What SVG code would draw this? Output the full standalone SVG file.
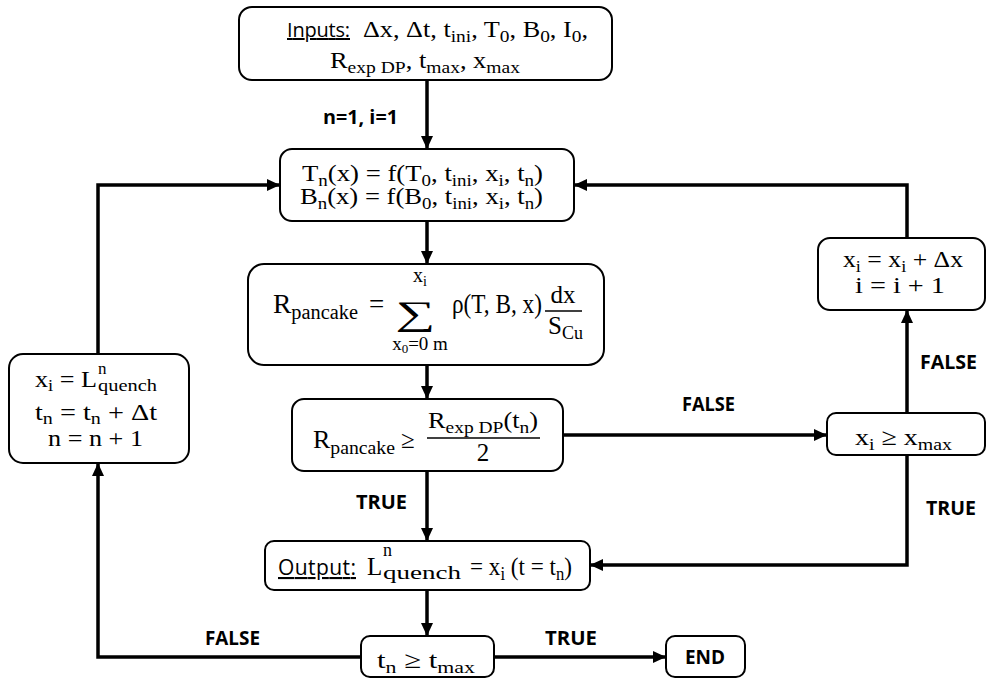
<svg xmlns="http://www.w3.org/2000/svg" width="987" height="679" viewBox="0 0 987 679" font-size="24">
  <style>
    .box { fill: #ffffff; stroke: #000000; stroke-width: 2; }
    .wire { fill: none; stroke: #000000; stroke-width: 3.5; stroke-linejoin: miter; marker-end: url(#head); }
    .m { font-family: "Liberation Serif", "DejaVu Serif", serif; fill: #000000; }
    .s { font-size: 17px; }
    .lbl { font-family: "Open Sans", "Liberation Sans", sans-serif; font-weight: bold; fill: #000000; }
    .kw { font-family: "Open Sans", "Liberation Sans", sans-serif; text-decoration: underline; fill: #000000; }
    .bar { stroke: #000000; stroke-width: 1.5; }
  </style>
  <defs>
    <marker id="head" markerUnits="userSpaceOnUse" markerWidth="13" markerHeight="12" refX="13" refY="6" orient="auto">
      <path d="M0,0 L13,6 L0,12 z" fill="#000000"/>
    </marker>
  </defs>
  <rect width="987" height="679" fill="#ffffff"/>

  <!-- connectors and branch labels -->
  <g id="connectors" font-size="19">
    <path class="wire" d="M427,80 V149"/>
    <path class="wire" d="M427,221 V264"/>
    <path class="wire" d="M427,365 V399"/>
    <path class="wire" d="M427,471 V541"/>
    <path class="wire" d="M427,590 V636"/>
    <path class="wire" d="M494,657 H666"/>
    <path class="wire" d="M361,657 H98 V463"/>
    <path class="wire" d="M98,354 V185 H280"/>
    <path class="wire" d="M563,435 H827"/>
    <path class="wire" d="M907,413 V310"/>
    <path class="wire" d="M907,238 V185 H574"/>
    <path class="wire" d="M907,455 V565 H590"/>
    <text class="lbl" x="323" y="124" textLength="75" lengthAdjust="spacingAndGlyphs">n=1, i=1</text>
    <text class="lbl" x="356" y="509" textLength="51" lengthAdjust="spacingAndGlyphs">TRUE</text>
    <text class="lbl" x="682" y="411" textLength="53" lengthAdjust="spacingAndGlyphs">FALSE</text>
    <text class="lbl" x="920" y="369" textLength="57" lengthAdjust="spacingAndGlyphs">FALSE</text>
    <text class="lbl" x="926" y="515" textLength="50" lengthAdjust="spacingAndGlyphs">TRUE</text>
    <text class="lbl" x="205" y="645" textLength="55" lengthAdjust="spacingAndGlyphs">FALSE</text>
    <text class="lbl" x="545" y="645" textLength="52" lengthAdjust="spacingAndGlyphs">TRUE</text>
  </g>

  <!-- inputs -->
  <g id="inputs">
    <rect class="box" x="239" y="7" width="373" height="73" rx="13"/>
    <text class="kw" x="287" y="37" font-size="20" textLength="63">Inputs:</text>
    <text class="m" x="363" y="37" font-size="23" textLength="225" lengthAdjust="spacingAndGlyphs">Δx, Δt, t<tspan class="s" dy="5">ini</tspan><tspan dy="-5">, T</tspan><tspan class="s" dy="5">0</tspan><tspan dy="-5">, B</tspan><tspan class="s" dy="5">0</tspan><tspan dy="-5">, I</tspan><tspan class="s" dy="5">0</tspan><tspan dy="-5">,</tspan></text>
    <text class="m" x="330" y="68" font-size="23" textLength="190" lengthAdjust="spacingAndGlyphs">R<tspan class="s" dy="5">exp DP</tspan><tspan dy="-5">, t</tspan><tspan class="s" dy="5">max</tspan><tspan dy="-5">, x</tspan><tspan class="s" dy="5">max</tspan></text>
  </g>

  <!-- field profiles -->
  <g id="profiles">
    <rect class="box" x="280" y="149" width="294" height="72" rx="12"/>
    <text class="m" x="302" y="181" textLength="241" lengthAdjust="spacingAndGlyphs">T<tspan class="s" dy="5">n</tspan><tspan dy="-5">(x) = f(T</tspan><tspan class="s" dy="5">0</tspan><tspan dy="-5">, t</tspan><tspan class="s" dy="5">ini</tspan><tspan dy="-5">, x</tspan><tspan class="s" dy="5">i</tspan><tspan dy="-5">, t</tspan><tspan class="s" dy="5">n</tspan><tspan dy="-5">)</tspan></text>
    <text class="m" x="300" y="204" textLength="243" lengthAdjust="spacingAndGlyphs">B<tspan class="s" dy="5">n</tspan><tspan dy="-5">(x) = f(B</tspan><tspan class="s" dy="5">0</tspan><tspan dy="-5">, t</tspan><tspan class="s" dy="5">ini</tspan><tspan dy="-5">, x</tspan><tspan class="s" dy="5">i</tspan><tspan dy="-5">, t</tspan><tspan class="s" dy="5">n</tspan><tspan dy="-5">)</tspan></text>
  </g>

  <!-- pancake resistance sum -->
  <g id="resistance">
    <rect class="box" x="248" y="264" width="356" height="101" rx="16"/>
    <text class="m" x="273" y="313" font-size="27" textLength="85" lengthAdjust="spacingAndGlyphs">R<tspan font-size="20" dy="6">pancake</tspan></text>
    <text class="m" x="369" y="313" font-size="27">=</text>
    <text class="m" x="395" y="325" font-size="34" textLength="40" lengthAdjust="spacingAndGlyphs">∑</text>
    <text class="m" x="420" y="282" font-size="20" text-anchor="middle">x<tspan font-size="14" dy="4">i</tspan></text>
    <text class="m" x="420" y="350" font-size="19" text-anchor="middle">x<tspan font-size="13" dy="3">0</tspan><tspan dy="-3">=0 m</tspan></text>
    <text class="m" x="452" y="313" font-size="27" textLength="90" lengthAdjust="spacingAndGlyphs">ρ(T, B, x)</text>
    <text class="m" x="563" y="303" font-size="25" text-anchor="middle">dx</text>
    <line class="bar" x1="545" y1="311" x2="582" y2="311"/>
    <text class="m" x="548" y="334" font-size="25">S<tspan font-size="18" dy="5">Cu</tspan></text>
  </g>

  <!-- threshold check -->
  <g id="threshold">
    <rect class="box" x="292" y="399" width="271" height="72" rx="12"/>
    <text class="m" x="313" y="448" font-size="25" textLength="82" lengthAdjust="spacingAndGlyphs">R<tspan font-size="19" dy="6">pancake</tspan></text>
    <text class="m" x="401" y="448" font-size="25">≥</text>
    <text class="m" x="428" y="428" font-size="23" textLength="110" lengthAdjust="spacingAndGlyphs">R<tspan class="s" dy="5">exp DP</tspan><tspan dy="-5">(t</tspan><tspan class="s" dy="5">n</tspan><tspan dy="-5">)</tspan></text>
    <line class="bar" x1="427" y1="438" x2="540" y2="438"/>
    <text class="m" x="483" y="461" font-size="25" text-anchor="middle">2</text>
  </g>

  <!-- time step update -->
  <g id="time-step">
    <rect class="box" x="9" y="354" width="180" height="109" rx="14"/>
    <text class="m" x="35" y="387" textLength="62" lengthAdjust="spacingAndGlyphs">x<tspan class="s" dy="4">i</tspan><tspan dy="-4"> = L</tspan></text>
    <text class="m" x="98" y="374" font-size="17">n</text>
    <text class="m" x="98" y="391" font-size="17" textLength="59" lengthAdjust="spacingAndGlyphs">quench</text>
    <text class="m" x="35" y="420" textLength="122" lengthAdjust="spacingAndGlyphs">t<tspan class="s" dy="4">n</tspan><tspan dy="-4"> = t</tspan><tspan class="s" dy="4">n</tspan><tspan dy="-4"> + Δt</tspan></text>
    <text class="m" x="48" y="446" textLength="95" lengthAdjust="spacingAndGlyphs">n = n + 1</text>
  </g>

  <!-- position step update -->
  <g id="position-step">
    <rect class="box" x="818" y="238" width="167" height="72" rx="12"/>
    <text class="m" x="843" y="267" textLength="120" lengthAdjust="spacingAndGlyphs">x<tspan class="s" dy="5">i</tspan><tspan dy="-5"> = x</tspan><tspan class="s" dy="5">i</tspan><tspan dy="-5"> + Δx</tspan></text>
    <text class="m" x="855" y="293" textLength="90" lengthAdjust="spacingAndGlyphs">i = i + 1</text>
  </g>

  <!-- length check -->
  <g id="length-check">
    <rect class="box" x="827" y="413" width="158" height="42" rx="9"/>
    <text class="m" x="855" y="445" textLength="97" lengthAdjust="spacingAndGlyphs">x<tspan class="s" dy="5">i</tspan><tspan dy="-5"> ≥ x</tspan><tspan class="s" dy="5">max</tspan></text>
  </g>

  <!-- output -->
  <g id="output">
    <rect class="box" x="265" y="541" width="325" height="49" rx="9"/>
    <text class="kw" x="278" y="575" font-size="21" textLength="78">Output:</text>
    <text class="m" x="367" y="575" font-size="25">L</text>
    <text class="m" x="383" y="556" font-size="18">n</text>
    <text class="m" x="383" y="579" font-size="19" textLength="78" lengthAdjust="spacingAndGlyphs">quench</text>
    <text class="m" x="470" y="575" font-size="25" textLength="102" lengthAdjust="spacingAndGlyphs">= x<tspan font-size="18" dy="5">i</tspan><tspan dy="-5"> (t = t</tspan><tspan font-size="18" dy="5">n</tspan><tspan dy="-5">)</tspan></text>
  </g>

  <!-- end time check -->
  <g id="time-check">
    <rect class="box" x="361" y="636" width="133" height="41" rx="9"/>
    <text class="m" x="377" y="668" textLength="98" lengthAdjust="spacingAndGlyphs">t<tspan class="s" dy="5">n</tspan><tspan dy="-5"> ≥ t</tspan><tspan class="s" dy="5">max</tspan></text>
  </g>

  <!-- end -->
  <g id="end">
    <rect class="box" x="666" y="636" width="79" height="41" rx="9"/>
    <text class="lbl" x="685" y="664" font-size="20" textLength="40" lengthAdjust="spacingAndGlyphs">END</text>
  </g>
</svg>
